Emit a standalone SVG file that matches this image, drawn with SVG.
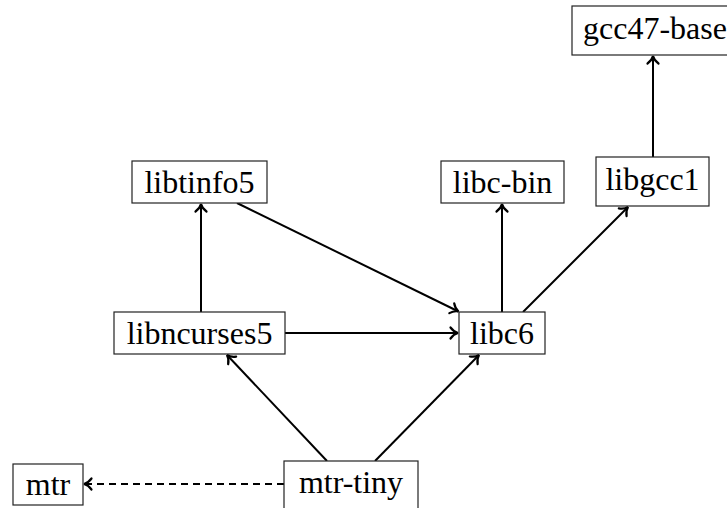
<svg xmlns="http://www.w3.org/2000/svg" width="727" height="508" viewBox="0 0 727 508">
<defs>
<style>
.box{fill:#fff;stroke:#222;stroke-width:1.2}
.edge{fill:none;stroke:#000;stroke-width:2}
.dash{stroke-dasharray:7,5}
</style>
<marker id="arr" markerUnits="userSpaceOnUse" markerWidth="16" markerHeight="16" viewBox="-9 -8 10 16" refX="0" refY="0" orient="auto">
<path d="M -7.5,-5.5 C -5,-2 -2,-0.5 0,0 C -2,0.5 -5,2 -7.5,5.5" fill="none" stroke="#000" stroke-width="2.2" stroke-linecap="round"/>
</marker>
</defs>
<rect width="727" height="508" fill="#fff"/>
<g id="edges">
<line class="edge" x1="653" y1="157" x2="653" y2="56" marker-end="url(#arr)"/>
<line class="edge" x1="502" y1="312" x2="502" y2="204" marker-end="url(#arr)"/>
<line class="edge" x1="523" y1="312" x2="628" y2="207" marker-end="url(#arr)"/>
<line class="edge" x1="237" y1="203" x2="458.5" y2="311.5" marker-end="url(#arr)"/>
<line class="edge" x1="201" y1="312" x2="201" y2="204" marker-end="url(#arr)"/>
<line class="edge" x1="285" y1="333" x2="458" y2="333" marker-end="url(#arr)"/>
<line class="edge" x1="327" y1="461" x2="227" y2="355" marker-end="url(#arr)"/>
<line class="edge" x1="375" y1="461" x2="479" y2="355" marker-end="url(#arr)"/>
<line class="edge dash" x1="284" y1="484" x2="84" y2="484" marker-end="url(#arr)"/>
</g>
<g id="gcc47-base">
<rect class="box" x="572" y="6" width="166" height="49"/>
<text font-family="Liberation Serif" font-size="32" text-anchor="middle" x="655" y="38.5">gcc47-base</text>
</g>
<g id="libtinfo5">
<rect class="box" x="132" y="161" width="135" height="42"/>
<text font-family="Liberation Serif" font-size="32" text-anchor="middle" x="199.5" y="192.5">libtinfo5</text>
</g>
<g id="libc-bin">
<rect class="box" x="441" y="161" width="123" height="42"/>
<text font-family="Liberation Serif" font-size="32" text-anchor="middle" x="502.5" y="192.5">libc-bin</text>
</g>
<g id="libgcc1">
<rect class="box" x="596" y="157" width="113" height="49"/>
<text font-family="Liberation Serif" font-size="32" text-anchor="middle" x="652.5" y="189.5">libgcc1</text>
</g>
<g id="libncurses5">
<rect class="box" x="114" y="312" width="171" height="42"/>
<text font-family="Liberation Serif" font-size="32" text-anchor="middle" x="199.5" y="343.5">libncurses5</text>
</g>
<g id="libc6">
<rect class="box" x="459" y="312" width="86" height="42"/>
<text font-family="Liberation Serif" font-size="32" text-anchor="middle" x="502" y="343.5">libc6</text>
</g>
<g id="mtr">
<rect class="box" x="13" y="464" width="70" height="41"/>
<text font-family="Liberation Serif" font-size="32" text-anchor="middle" x="48" y="494.5">mtr</text>
</g>
<g id="mtr-tiny">
<rect class="box" x="284" y="461" width="134" height="49"/>
<text font-family="Liberation Serif" font-size="32" text-anchor="middle" x="351" y="493">mtr-tiny</text>
</g>
</svg>
